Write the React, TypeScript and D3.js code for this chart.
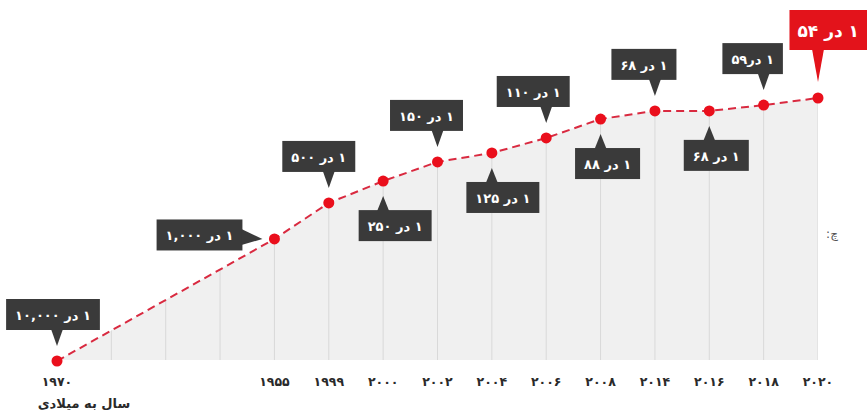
import React, { useRef, useEffect } from 'react';
import * as d3 from 'd3';

// years on the axis (Persian digits, as printed)
const years = ['۱۹۷۰', '۱۹۵۵', '۱۹۹۹', '۲۰۰۰', '۲۰۰۲', '۲۰۰۴', '۲۰۰۶', '۲۰۰۸', '۲۰۱۴', '۲۰۱۶', '۲۰۱۸', '۲۰۲۰'];
// empty slots drawn between the first year and the rest
const gapSlots = ['g1', 'g2', 'g3'];
// risk labels: "1 in N"
const riskLabels = [
  '۱ در ۱۰,۰۰۰',
  '۱ در ۱,۰۰۰',
  '۱ در ۵۰۰',
  '۱ در ۲۵۰',
  '۱ در ۱۵۰',
  '۱ در ۱۲۵',
  '۱ در ۱۱۰',
  '۱ در ۸۸',
  '۱ در ۶۸',
  '۱ در ۶۸',
  '۱ در۵۹',
  '۱ در ۵۴',
];
// plotted height of each point (0 = baseline, 100 = last point)
const levels = [0, 46.4, 60.1, 68.4, 75.7, 79.1, 84.8, 92, 95.1, 95.1, 97.3, 100];

// callout placement: side of the point and horizontal nudge of the box
const calloutLayout: { side: 'up' | 'down' | 'left' | 'hero'; dx: number }[] = [
  { side: 'up', dx: -4 },
  { side: 'left', dx: 0 },
  { side: 'up', dx: -10 },
  { side: 'down', dx: 12 },
  { side: 'up', dx: -11 },
  { side: 'down', dx: 11 },
  { side: 'up', dx: -13 },
  { side: 'down', dx: 7 },
  { side: 'up', dx: -11 },
  { side: 'down', dx: 7 },
  { side: 'up', dx: -11 },
  { side: 'hero', dx: 0 },
];

const FONT = '"DejaVu Sans", "Noto Sans", sans-serif';
const W = 867;
const H = 412;

const App: React.FC = () => {
  const svgRef = useRef<SVGSVGElement | null>(null);

  useEffect(() => {
    document.body.style.margin = '0';
    if (!svgRef.current) return;
    const svg = d3.select(svgRef.current);
    svg.selectAll('*').remove();

    const baseline = 361;
    const slots = [years[0], ...gapSlots, ...years.slice(1)];
    const x = d3.scalePoint<string>().domain(slots).range([57, 818]);
    const y = d3.scaleLinear().domain([0, 100]).range([baseline, 98]);

    const pts = years.map((yr, i) => ({ yr, level: levels[i], label: riskLabels[i], ...calloutLayout[i] }));

    const area = d3
      .area<typeof pts[0]>()
      .x(d => x(d.yr)!)
      .y0(baseline - 1)
      .y1(d => y(d.level));
    const line = d3
      .line<typeof pts[0]>()
      .x(d => x(d.yr)!)
      .y(d => y(d.level));

    const defs = svg.append('defs');
    defs.append('clipPath').attr('id', 'area-clip').append('path').attr('d', area(pts)!);

    svg.append('path').datum(pts).attr('d', area).attr('fill', '#f0f0f0');

    // vertical gridlines, clipped to the area
    svg
      .append('g')
      .attr('clip-path', 'url(#area-clip)')
      .selectAll('line')
      .data(slots)
      .join('line')
      .attr('x1', d => x(d)!)
      .attr('x2', d => x(d)!)
      .attr('y1', 0)
      .attr('y2', baseline)
      .attr('stroke', '#d9d9d9')
      .attr('stroke-width', 1);

    svg
      .append('path')
      .datum(pts)
      .attr('d', line)
      .attr('fill', 'none')
      .attr('stroke', '#d92a40')
      .attr('stroke-width', 2)
      .attr('stroke-dasharray', '8,5');

    svg
      .append('g')
      .selectAll('circle')
      .data(pts)
      .join('circle')
      .attr('cx', d => x(d.yr)!)
      .attr('cy', d => y(d.level))
      .attr('r', 5.5)
      .attr('fill', '#ea0f1c');

    // callouts
    pts.forEach(d => {
      const px = x(d.yr)!;
      const py = y(d.level);
      const hero = d.side === 'hero';
      const g = svg.append('g');
      const text = g
        .append('text')
        .attr('direction', 'rtl')
        .attr('text-anchor', 'middle')
        .attr('dominant-baseline', 'central')
        .attr('font-family', FONT)
        .attr('font-weight', 'bold')
        .attr('font-size', hero ? 17 : 13)
        .attr('fill', '#fff')
        .text(d.label);
      const tw = (text.node() as SVGTextElement).getComputedTextLength();
      const bw = tw + (hero ? 16 : 18);
      const bh = hero ? 40 : 31;
      let cx = px + d.dx;
      let cy = 0;
      let tri: [number, number][] = [];
      if (d.side === 'up' || d.side === 'hero') {
        const tip = py - (hero ? 16 : 15);
        const bottom = py - (hero ? 48 : 31);
        cy = bottom - bh / 2;
        if (hero) cx = W - bw / 2; // box runs to the right edge of the picture
        tri = [
          [px - 6, bottom - 1],
          [px + 6, bottom - 1],
          [px, tip],
        ];
      } else if (d.side === 'down') {
        const tip = py + 15;
        const top = py + 29;
        cy = top + bh / 2;
        tri = [
          [px - 6, top + 1],
          [px + 6, top + 1],
          [px, tip],
        ];
      } else {
        const tip = px - 12;
        const right = px - 32;
        cx = right - bw / 2;
        cy = py - 4;
        tri = [
          [right - 1, py - 10],
          [right - 1, py + 6],
          [tip, py],
        ];
      }
      const fill = hero ? '#e3131b' : '#3a3a3a';
      g.insert('rect', 'text')
        .attr('x', cx - bw / 2)
        .attr('y', cy - bh / 2)
        .attr('width', hero ? bw + 20 : bw)
        .attr('height', bh)
        .attr('fill', fill);
      g.insert('path', 'text')
        .attr('d', d3.line()(tri)! + 'Z')
        .attr('fill', fill);
      text.attr('x', cx).attr('y', cy + 1);
    });

    // x axis labels
    svg
      .append('g')
      .selectAll('text')
      .data(years)
      .join('text')
      .attr('x', d => x(d)!)
      .attr('y', 381)
      .attr('text-anchor', 'middle')
      .attr('dominant-baseline', 'central')
      .attr('font-family', FONT)
      .attr('font-weight', 'bold')
      .attr('font-size', 12.5)
      .attr('fill', '#2a2a2a')
      .text(d => d);

    svg
      .append('text')
      .attr('x', 84)
      .attr('y', 403)
      .attr('direction', 'rtl')
      .attr('text-anchor', 'middle')
      .attr('dominant-baseline', 'central')
      .attr('font-family', FONT)
      .attr('font-weight', 'bold')
      .attr('font-size', 13)
      .attr('fill', '#2a2a2a')
      .text('سال به میلادی');

    svg
      .append('text')
      .attr('x', 832)
      .attr('y', 234)
      .attr('direction', 'rtl')
      .attr('text-anchor', 'middle')
      .attr('dominant-baseline', 'central')
      .attr('font-family', FONT)
      .attr('font-size', 12)
      .attr('fill', '#555')
      .text('چ:');
  }, []);

  return <svg ref={svgRef} width={W} height={H} style={{ display: 'block', background: '#fff' }} />;
};

export default App;
